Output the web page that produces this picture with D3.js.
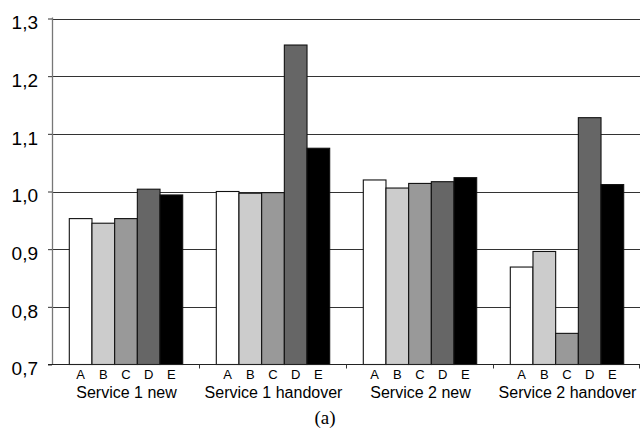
<!DOCTYPE html>
<html><head><meta charset="utf-8">
<script src="https://cdn.jsdelivr.net/npm/d3@7"></script>
<style>html,body{margin:0;padding:0;background:#fff;}svg{display:block;}
.sans{font-family:'Liberation Sans',Arial,sans-serif;}
.serif{font-family:'Liberation Serif','Times New Roman',serif;}</style>
</head><body>
<svg id="chart" width="641" height="428"></svg>
<script>
const groups = ["Service 1 new", "Service 1 handover", "Service 2 new", "Service 2 handover"];
const seriesNames = ["A", "B", "C", "D", "E"];
const seriesColors = ["#ffffff", "#cccccc", "#999999", "#666666", "#000000"];
const valuesA = [0.953, 1.000, 1.020, 0.869];
const valuesB = [0.945, 0.997, 1.006, 0.896];
const valuesC = [0.953, 0.998, 1.014, 0.754];
const valuesD = [1.004, 1.254, 1.017, 1.128];
const valuesE = [0.994, 1.075, 1.024, 1.012];
const yTicks = [0.7, 0.8, 0.9, 1.0, 1.1, 1.2, 1.3];
const caption = "(a)";

const series = [valuesA, valuesB, valuesC, valuesD, valuesE];
const svg = d3.select("#chart");
const mLeft = 52, mRight = 640, mTop = 18.5, mBottom = 364.5;

const x = d3.scaleBand().domain(groups).range([mLeft, mRight]).padding(0);
const xi = d3.scaleBand().domain(seriesNames).range([17.3, x.bandwidth() - 16.3]).padding(0);
const y = d3.scaleLinear().domain([0.7, 1.3]).range([mBottom, mTop]);
const fmt = v => d3.format(".1f")(v).replace(".", ",");

// gridlines
svg.append("g").selectAll("line").data(yTicks.filter(t => t > 0.7)).join("line")
  .attr("x1", mLeft).attr("x2", mRight)
  .attr("y1", d => Math.round(y(d)) + 0.5).attr("y2", d => Math.round(y(d)) + 0.5)
  .attr("stroke", "#333").attr("stroke-width", 1.2);

// bars
const data = [];
groups.forEach((g, gi) => seriesNames.forEach((s, si) => data.push({g, s, si, v: series[si][gi]})));
svg.append("g").selectAll("rect").data(data).join("rect")
  .attr("x", d => x(d.g) + xi(d.s))
  .attr("y", d => y(d.v))
  .attr("width", xi.bandwidth())
  .attr("height", d => y(0.7) - y(d.v))
  .attr("fill", d => seriesColors[d.si])
  .attr("stroke", "#111").attr("stroke-width", 1.1);

// y axis
const yAxis = svg.append("g").attr("transform", `translate(${mLeft},0)`)
  .call(d3.axisLeft(y).tickValues(yTicks).tickFormat(fmt).tickSize(4).tickPadding(10));
yAxis.attr("font-family", null).attr("font-size", null);
yAxis.select(".domain").attr("stroke", "#777").attr("stroke-width", 1.3)
  .attr("d", `M0.5,${mTop - 1}V${mBottom}`);
yAxis.selectAll(".tick line").attr("stroke", "#333");
yAxis.selectAll("text").attr("class", "sans")
  .attr("font-size", 19).attr("fill", "#000").attr("dy", "0.55em");

// x axis
const xAxis = svg.append("g").attr("transform", `translate(0,${mBottom})`);
xAxis.append("line").attr("x1", mLeft - 4).attr("x2", mRight).attr("y1", 0).attr("y2", 0)
  .attr("stroke", "#222").attr("stroke-width", 1.2);
xAxis.selectAll(".sep").data(groups.slice(1).concat(["end"])).join("line")
  .attr("class", "sep")
  .attr("x1", d => d === "end" ? mRight - 0.5 : Math.round(x(d)) + 0.5)
  .attr("x2", d => d === "end" ? mRight - 0.5 : Math.round(x(d)) + 0.5)
  .attr("y1", 0).attr("y2", 4).attr("stroke", "#333");

// series letters
svg.append("g").selectAll("text").data(data).join("text")
  .attr("class", "sans")
  .attr("x", d => x(d.g) + xi(d.s) + xi.bandwidth() / 2)
  .attr("y", 379).attr("text-anchor", "middle")
  .attr("font-size", 13)
  .text(d => d.s);

// group labels
svg.append("g").selectAll("text").data(groups).join("text")
  .attr("class", "sans")
  .attr("x", d => x(d) + x.bandwidth() / 2 + 1)
  .attr("y", 397.5).attr("text-anchor", "middle")
  .attr("font-size", 16)
  .text(d => d);

svg.append("text").attr("class", "serif").attr("x", 325).attr("y", 423.5).attr("text-anchor", "middle")
  .attr("font-size", 19)
  .text(caption);
</script>
</body></html>
